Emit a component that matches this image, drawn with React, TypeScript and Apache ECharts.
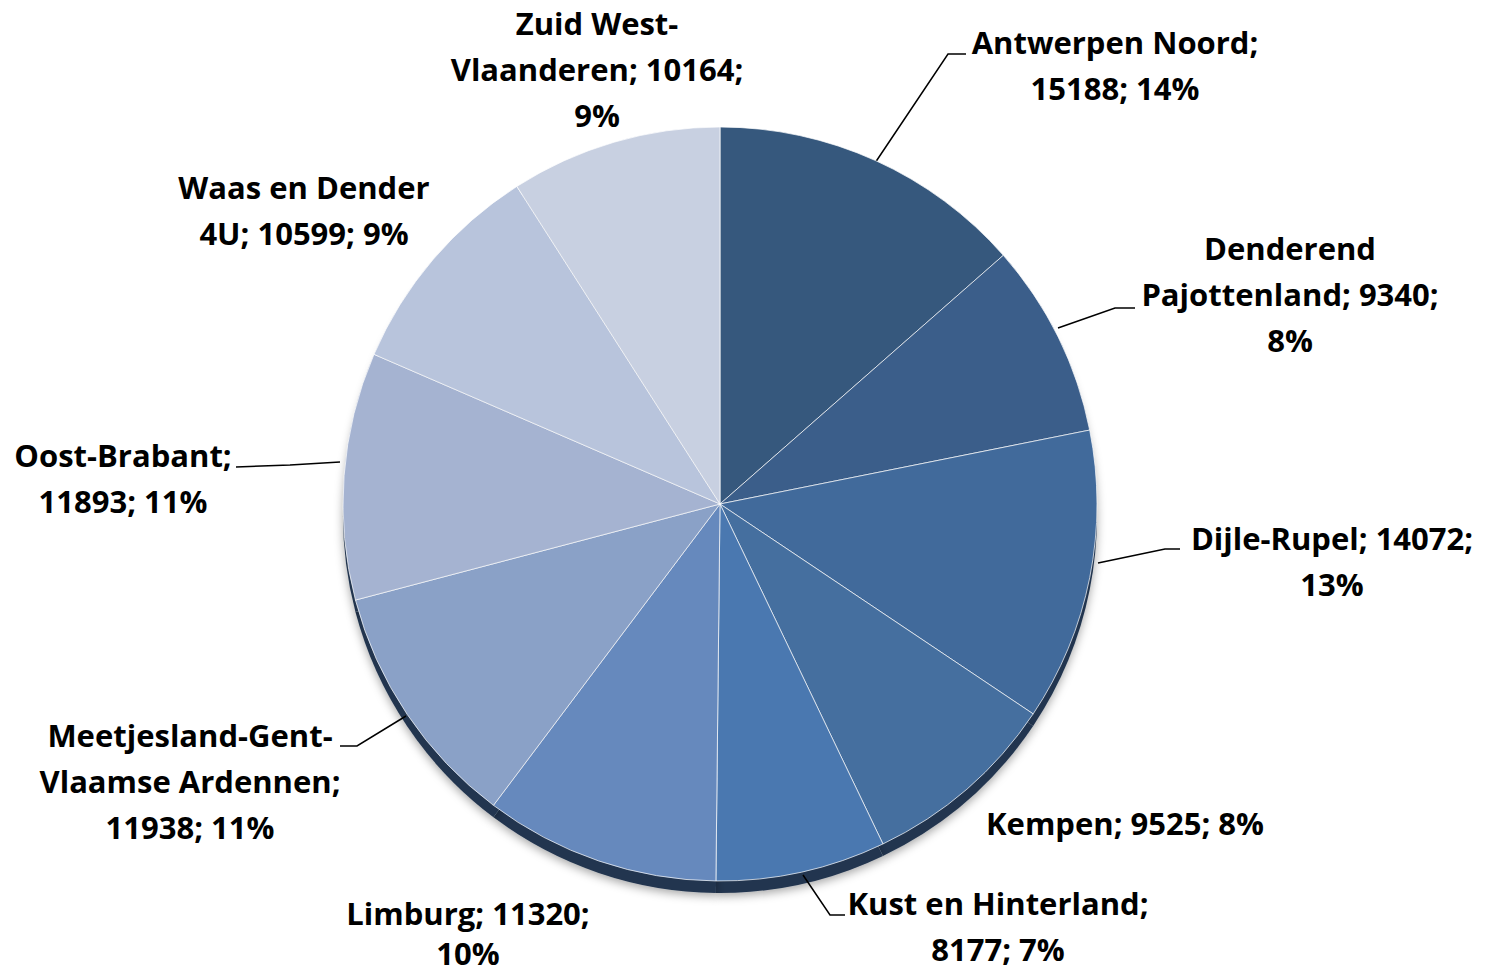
import React, { useEffect, useRef } from "react";
import * as echarts from "echarts";

const categories = [
  "Antwerpen Noord",
  "Denderend Pajottenland",
  "Dijle-Rupel",
  "Kempen",
  "Kust en Hinterland",
  "Limburg",
  "Meetjesland-Gent-Vlaamse Ardennen",
  "Oost-Brabant",
  "Waas en Dender 4U",
  "Zuid West-Vlaanderen",
];
const values = [15188, 9340, 14072, 9525, 8177, 11320, 11938, 11893, 10599, 10164];
// label text templates (line breaks as in the reference)
const labelTemplates = [
  "Antwerpen Noord;\n{v}; {p}%",
  "Denderend\nPajottenland; {v};\n{p}%",
  "Dijle-Rupel; {v};\n{p}%",
  "Kempen; {v}; {p}%",
  "Kust en Hinterland;\n{v}; {p}%",
  "Limburg; {v};\n{p}%",
  "Meetjesland-Gent-\nVlaamse Ardennen;\n{v}; {p}%",
  "Oost-Brabant;\n{v}; {p}%",
  "Waas en Dender\n4U; {v}; {p}%",
  "Zuid West-\nVlaanderen; {v};\n{p}%",
];
const colors = [
  "#36587d", "#3b5e8a", "#416a9b", "#456f9f", "#4a78b0",
  "#6689bd", "#8aa1c7", "#a5b3d1", "#b8c4dc", "#c8d0e1",
];

// layout of labels (center x, top y, line height) and leader lines
const labelPos: [number, number, number][] = [
  [1115, 19, 46], [1290, 225, 46], [1332, 515, 46], [1125, 800, 46], [998, 880, 46],
  [468, 893, 40], [190, 712, 46], [123, 432, 46], [304, 164, 46], [597, 0, 46],
];
const linePts: (number[][] | null)[] = [
  [[875, 163], [948, 54], [966, 54]],
  [[1058, 328], [1115, 308], [1135, 308]],
  [[1098, 563], [1165, 549], [1180, 549]],
  null,
  [[803, 875], [830, 915], [845, 915]],
  null,
  [[406, 716], [357, 746], [340, 746]],
  [[340, 462], [290, 465], [236, 467]],
  null,
  null,
];

export default function App() {
  const ref = useRef<HTMLDivElement>(null);
  useEffect(() => {
    if (!ref.current) return;
    const chart = echarts.init(ref.current, undefined, { renderer: "svg" });
    const cx = 720;
    const cy = 504;
    const r = 377;
    chart.setOption({
      animation: false,
      backgroundColor: "#ffffff",
      series: [
        {
          type: "pie",
          silent: true,
          z: 1,
          center: [cx, cy + 12],
          radius: r,
          startAngle: 90,
          clockwise: true,
          label: { show: false },
          labelLine: { show: false },
          itemStyle: {
            color: "#24364f",
            shadowBlur: 10,
            shadowColor: "rgba(0,0,0,0.35)",
            shadowOffsetY: 3,
          },
          data: values.map((v, i) => ({ name: categories[i], value: v })),
        },
        {
          type: "pie",
          z: 2,
          center: [cx, cy],
          radius: r,
          startAngle: 90,
          clockwise: true,
          percentPrecision: 0,
          itemStyle: { borderColor: "rgba(255,255,255,0.7)", borderWidth: 1 },
          label: {
            show: true,
            position: "outside",
            color: "#000000",
            fontFamily: "Open Sans",
            fontWeight: "bold",
            fontSize: 31,
            lineHeight: 46,
            formatter: (p: any) =>
              labelTemplates[p.dataIndex]
                .replace("{v}", String(p.value))
                .replace("{p}", String(Math.round(p.percent))),
          },
          labelLine: { show: true, lineStyle: { color: "#000000", width: 1.5 } },
          labelLayout: (p: any) => {
            const i = p.dataIndex;
            const res: any = {
              x: labelPos[i][0],
              y: labelPos[i][1],
              align: "center",
              verticalAlign: "top",
            };
            if (linePts[i]) res.labelLinePoints = linePts[i];
            return res;
          },
          data: values.map((v, i) => ({
            name: categories[i],
            value: v,
            itemStyle: { color: colors[i] },
            label: { lineHeight: labelPos[i][2] },
            labelLine: { show: !!linePts[i] },
          })),
        },
      ],
    });
    return () => chart.dispose();
  }, []);
  return (
    <div
      ref={ref}
      style={{ position: "fixed", left: 0, top: 0, width: 1495, height: 974 }}
    />
  );
}
